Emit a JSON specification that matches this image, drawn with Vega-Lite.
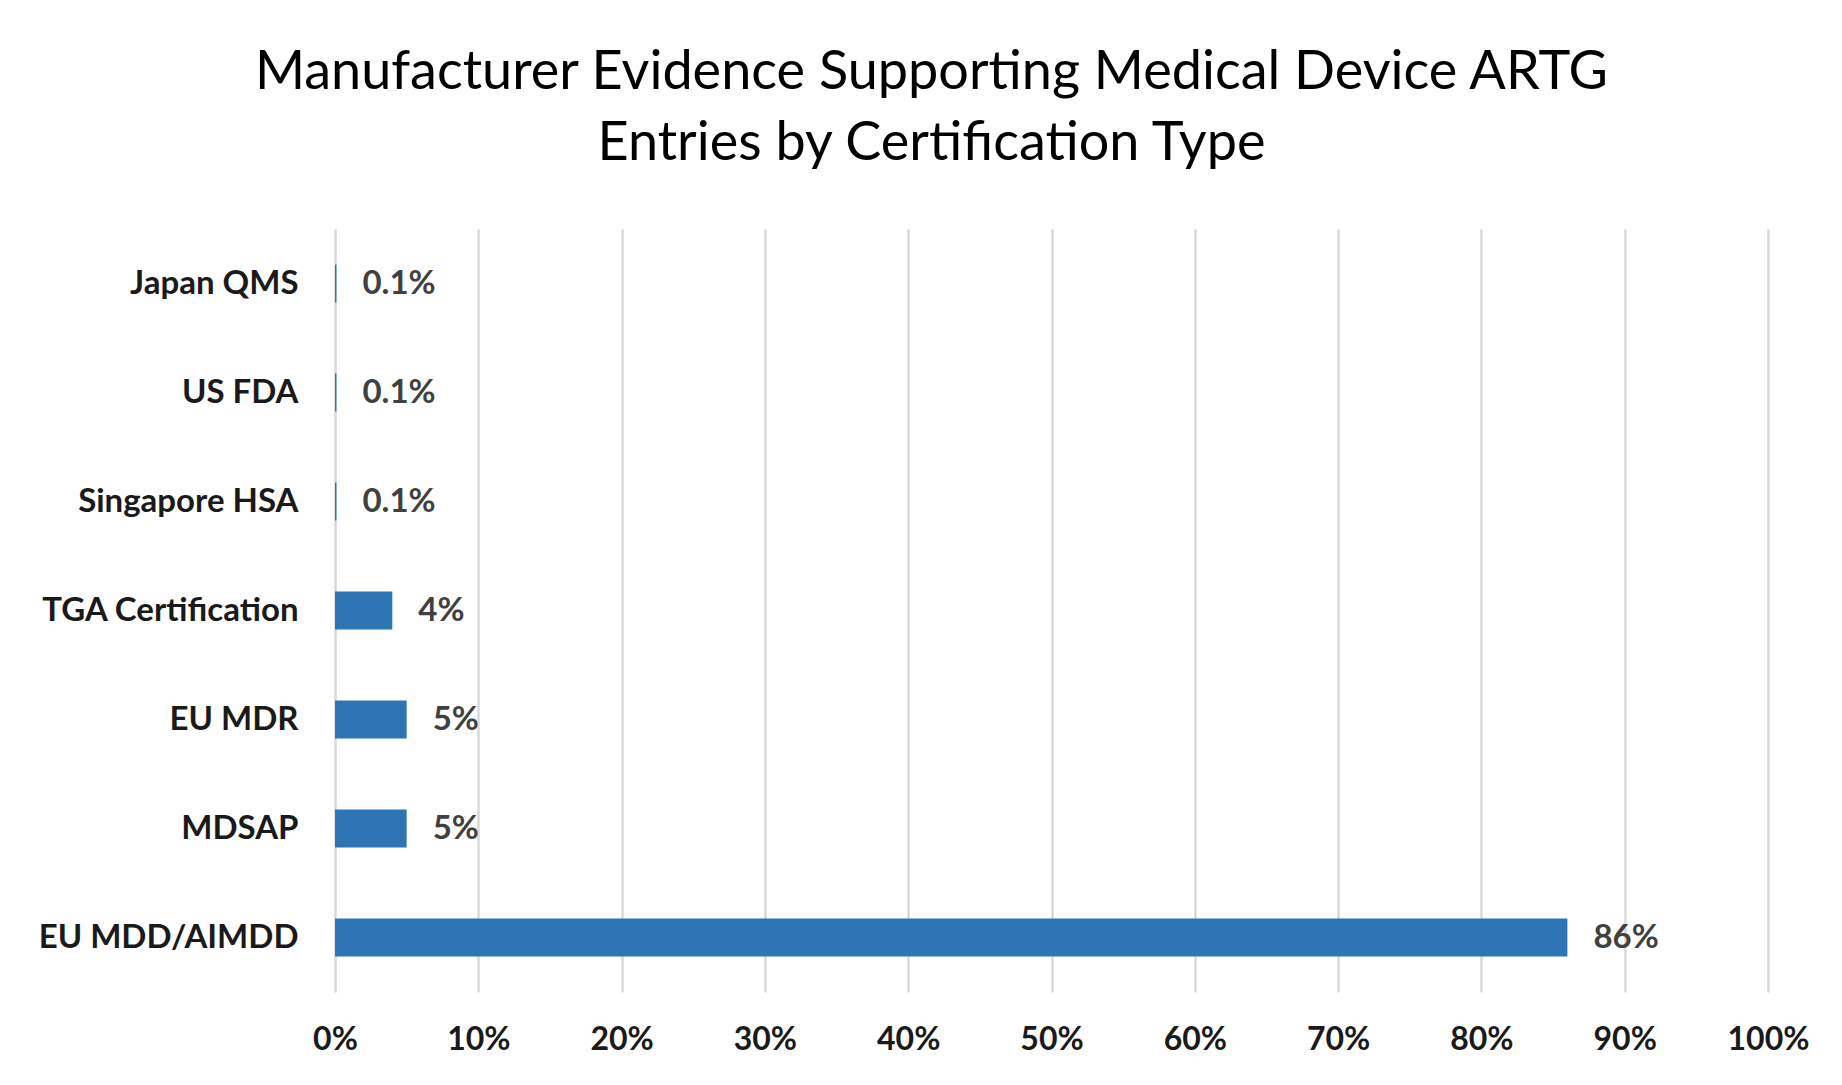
{
  "$schema": "https://vega.github.io/schema/vega-lite/v6.json",
  "width": 1433,
  "height": 763,
  "autosize": {"type": "none"},
  "padding": {"left": 335, "top": 229, "right": 74, "bottom": 93},
  "background": "white",
  "title": {
    "text": ["Manufacturer Evidence Supporting Medical Device ARTG", "Entries by Certification Type"],
    "font": "Lato",
    "fontSize": 54,
    "fontWeight": "normal",
    "color": "#000000",
    "anchor": "middle",
    "frame": "group",
    "dx": -120,
    "lineHeight": 71,
    "offset": 58
  },
  "data": {
    "values": [
      {"certification": "Japan QMS", "share": 0.001},
      {"certification": "US FDA", "share": 0.001},
      {"certification": "Singapore HSA", "share": 0.001},
      {"certification": "TGA Certification", "share": 0.04},
      {"certification": "EU MDR", "share": 0.05},
      {"certification": "MDSAP", "share": 0.05},
      {"certification": "EU MDD/AIMDD", "share": 0.86}
    ]
  },
  "encoding": {
    "y": {
      "field": "certification",
      "type": "nominal",
      "sort": ["Japan QMS", "US FDA", "Singapore HSA", "TGA Certification", "EU MDR", "MDSAP", "EU MDD/AIMDD"],
      "scale": {"paddingInner": 0, "paddingOuter": 0},
      "axis": {
        "title": null,
        "ticks": false,
        "domain": false,
        "grid": false,
        "labelFont": "Lato",
        "labelFontWeight": "bold",
        "labelFontSize": 33,
        "labelColor": "#1a1a1a",
        "labelPadding": 37,
        "labelLimit": 0
      }
    },
    "x": {
      "field": "share",
      "type": "quantitative",
      "scale": {"domain": [0, 1], "nice": false},
      "axis": {
        "title": null,
        "format": ".0%",
        "values": [0, 0.1, 0.2, 0.3, 0.4, 0.5, 0.6, 0.7, 0.8, 0.9, 1],
        "ticks": false,
        "tickSize": 0,
        "domain": false,
        "grid": true,
        "gridColor": "#d9d9d9",
        "gridWidth": 2.5,
        "labelFont": "Lato",
        "labelFontWeight": "bold",
        "labelFontSize": 32,
        "labelColor": "#1a1a1a",
        "labelBaseline": "middle",
        "labelPadding": 47,
        "labelFlush": false,
        "labelOverlap": false
      }
    }
  },
  "layer": [
    {
      "mark": {"type": "bar", "color": "#2e75b6", "height": {"band": 0.35}}
    },
    {
      "mark": {
        "type": "text",
        "align": "left",
        "baseline": "middle",
        "dx": 26,
        "font": "Lato",
        "fontWeight": "bold",
        "fontSize": 33,
        "color": "#404040"
      },
      "encoding": {
        "text": {"field": "share", "type": "quantitative", "format": ".1~%"}
      }
    }
  ],
  "config": {
    "view": {"stroke": null}
  }
}
